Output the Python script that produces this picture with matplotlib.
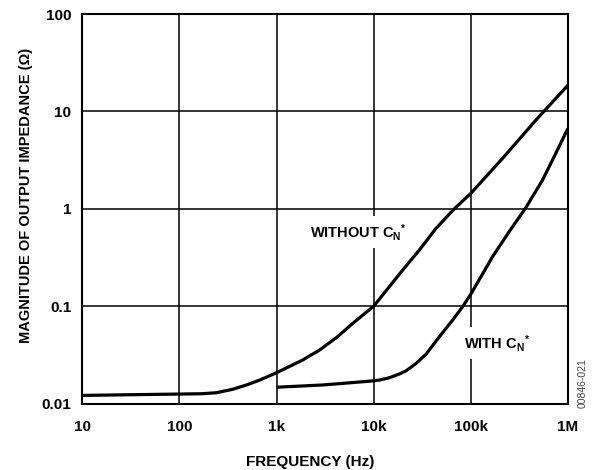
import matplotlib
matplotlib.use("Agg")
import matplotlib.pyplot as plt

# Data
freq_without = [10, 30, 100, 170, 240, 354, 490, 670, 1000, 1860, 2770, 4120, 6100,
                10000, 19900, 29500, 43900, 67600, 100000, 212000, 468000, 1000000]
z_without = [0.0121, 0.0123, 0.0125, 0.0126, 0.0129, 0.014, 0.0155, 0.0174, 0.0207, 0.028,
             0.0354, 0.0474, 0.0666, 0.1, 0.235, 0.377, 0.63, 1.0, 1.44, 3.29, 8.15, 18.6]

freq_with = [1000, 3000, 9400, 11500, 14500, 18400, 21600, 27300, 34700, 43900, 65000,
             83000, 100000, 167000, 249000, 369000, 547000, 692000, 1000000]
z_with = [0.0147, 0.0155, 0.0170, 0.0174, 0.0184, 0.0201, 0.0217, 0.0258, 0.0322, 0.044,
          0.072, 0.1, 0.133, 0.321, 0.585, 1.03, 1.97, 3.16, 6.7]

x_ticks = [10, 100, 1000, 10000, 100000, 1000000]
x_tick_labels = ["10", "100", "1k", "10k", "100k", "1M"]
y_ticks = [0.01, 0.1, 1, 10, 100]
y_tick_labels = ["0.01", "0.1", "1", "10", "100"]

plt.rcParams['font.family'] = ['Liberation Sans', 'DejaVu Sans']
plt.rcParams['font.weight'] = 'bold'
plt.rcParams['mathtext.fontset'] = 'custom'
plt.rcParams['mathtext.rm'] = 'Liberation Sans:bold'
plt.rcParams['mathtext.bf'] = 'Liberation Sans:bold'
plt.rcParams['mathtext.it'] = 'Liberation Sans:bold'

fs = 11
fs_ann = 10.5
fig = plt.figure(figsize=(5.92, 4.70), dpi=100)
ax = fig.add_axes([82.3 / 592, 1 - 403.5 / 470, (568 - 82.3) / 592, (403.5 - 14) / 470])

ax.set_xscale('log')
ax.set_yscale('log')
ax.set_xlim(10, 1e6)
ax.set_ylim(0.01, 100)

ax.plot(freq_without, z_without, color='black', lw=2.3, solid_joinstyle='round',
        solid_capstyle='butt', zorder=3)
ax.plot(freq_with, z_with, color='black', lw=2.3, solid_joinstyle='round',
        solid_capstyle='butt', zorder=3)

ax.set_xticks(x_ticks)
ax.set_xticklabels(x_tick_labels, fontsize=fs, fontweight='bold')
ax.set_yticks(y_ticks)
ax.set_yticklabels(y_tick_labels, fontsize=fs, fontweight='bold')
ax.minorticks_off()
ax.tick_params(axis='both', length=0)
ax.tick_params(axis='x', pad=12)
ax.tick_params(axis='y', pad=8)

ax.grid(True, which='major', color='black', lw=1.1)
ax.set_axisbelow(True)
for s in ax.spines.values():
    s.set_linewidth(1.5)
    s.set_color('black')

bbox = dict(facecolor='white', edgecolor='none', pad=4)
ax.text(2190, 0.577, r'WITHOUT $\mathbf{C}_\mathbf{N}{}^{*}$', fontsize=fs_ann,
        fontweight='bold', ha='left', va='center', bbox=bbox, zorder=2)
ax.text(85700, 0.0418, r'WITH $\mathbf{C}_\mathbf{N}{}^{*}$', fontsize=fs_ann,
        fontweight='bold', ha='left', va='center', bbox=bbox, zorder=2)

fig.text(310.5 / 592, 1 - 462 / 470, 'FREQUENCY (Hz)', fontsize=fs, fontweight='bold',
         ha='center', va='center')
fig.text(26 / 592, 1 - 195 / 470, 'MAGNITUDE OF OUTPUT IMPEDANCE (Ω)', fontsize=10.5,
         fontweight='bold', ha='center', va='center', rotation=90)
fig.text(583 / 592, 1 - 383 / 470, '00846-021', fontsize=7.5, color='#444444',
         fontweight='normal', ha='center', va='center', rotation=90)

fig.savefig('out.png', dpi=100)
